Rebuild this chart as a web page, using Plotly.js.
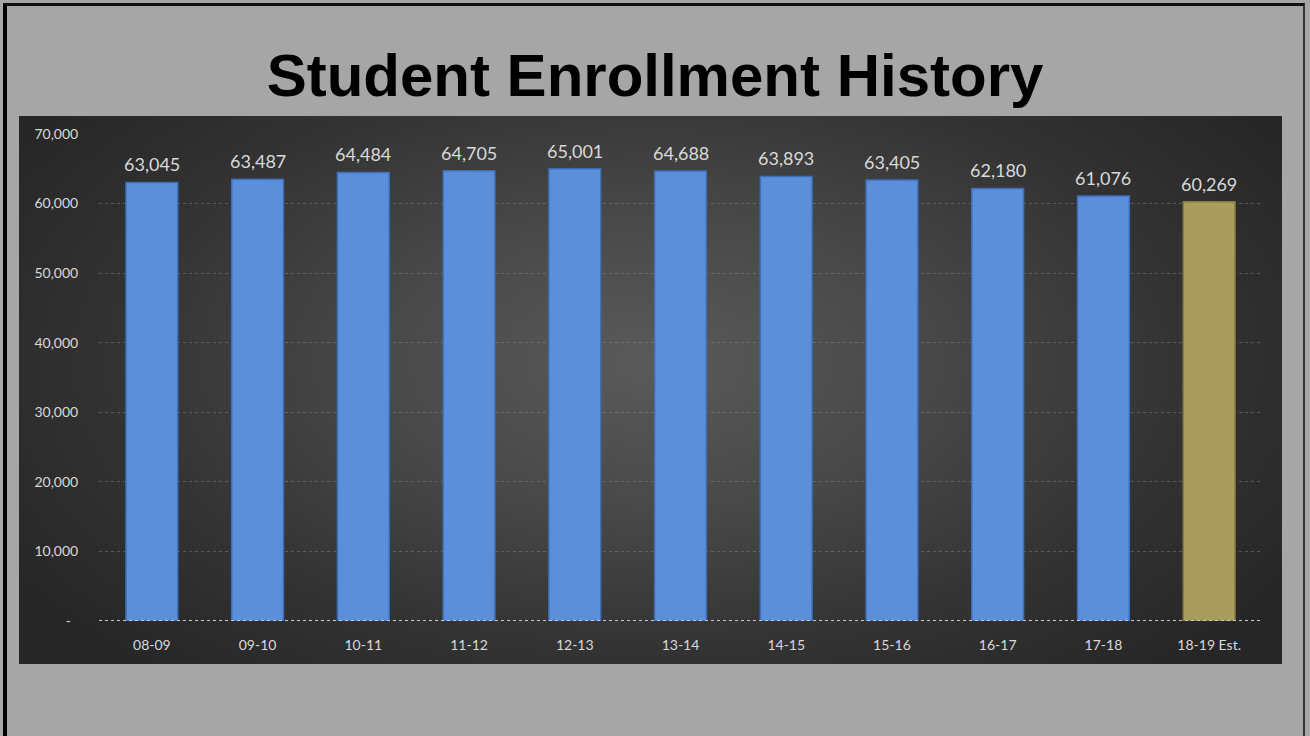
<!DOCTYPE html>
<html>
<head>
<meta charset="utf-8">
<script src="https://cdn.plot.ly/plotly-3.0.1.min.js"></script>
<style>
  html, body { margin: 0; padding: 0; width: 1310px; height: 736px; overflow: hidden; background: #a6a6a6; }
  #frame { position: absolute; left: 3px; top: 3px; width: 1302px; height: 740px; border-left: 4px solid #000; border-top: 3px solid #111; border-right: 2px solid #333; box-sizing: border-box; }
  #panel { position: absolute; left: 19px; top: 116px; width: 1263px; height: 548px;
           background: radial-gradient(ellipse 60% 75% at 50% 45%, #5a5a5a 0%, #494949 35%, #333333 70%, #262626 100%); }
  #chart { position: absolute; left: 0; top: 0; width: 1310px; height: 736px; }
</style>
</head>
<body>
<div id="frame"></div>
<div id="panel"></div>
<div id="chart"></div>
<script>
const categories = ['08-09', '09-10', '10-11', '11-12', '12-13', '13-14', '14-15', '15-16', '16-17', '17-18', '18-19 Est.'];
const enrollment = [63045, 63487, 64484, 64705, 65001, 64688, 63893, 63405, 62180, 61076, 60269];
const barColors = ['#5b8fd9', '#5b8fd9', '#5b8fd9', '#5b8fd9', '#5b8fd9', '#5b8fd9', '#5b8fd9', '#5b8fd9', '#5b8fd9', '#5b8fd9', '#a99d5e'];
const barEdges = ['#3d6fb8', '#3d6fb8', '#3d6fb8', '#3d6fb8', '#3d6fb8', '#3d6fb8', '#3d6fb8', '#3d6fb8', '#3d6fb8', '#3d6fb8', '#857a40'];
const yTickVals = [0, 10000, 20000, 30000, 40000, 50000, 60000, 70000];
const yTickText = ['-  ', '10,000', '20,000', '30,000', '40,000', '50,000', '60,000', '70,000'];

const fmt = v => v.toLocaleString('en-US');

const trace = {
  type: 'bar',
  x: categories,
  y: enrollment,
  marker: { color: barColors, line: { color: barEdges, width: 1.5 } },
  hoverinfo: 'x+y'
};

const annotations = categories.map((c, i) => ({
  x: c, y: enrollment[i], xref: 'x', yref: 'y',
  text: fmt(enrollment[i]), showarrow: false,
  yanchor: 'bottom', yshift: 5,
  font: { family: 'Lato, "Open Sans", sans-serif', size: 18, color: '#d9d9d9' }
}));

const layout = {
  width: 1310, height: 736,
  paper_bgcolor: 'rgba(0,0,0,0)',
  plot_bgcolor: 'rgba(0,0,0,0)',
  margin: { l: 99, r: 48, t: 134, b: 115 },
  title: {
    text: '<b>Student Enrollment History</b>',
    font: { family: '"Liberation Sans", Arial, sans-serif', size: 60, color: '#000' },
    x: 0.5, xanchor: 'center', xref: 'container',
    y: 1 - 75 / 736, yanchor: 'middle', yref: 'container'
  },
  bargap: 0.51,
  showlegend: false,
  xaxis: {
    type: 'category',
    showgrid: false, zeroline: false, showline: false,
    ticks: 'outside', ticklen: 11, tickcolor: 'rgba(0,0,0,0)',
    tickfont: { family: 'Lato, "Open Sans", sans-serif', size: 14, color: '#d9d9d9' }
  },
  yaxis: {
    range: [0, 70000],
    tickvals: yTickVals, ticktext: yTickText,
    showgrid: true, gridcolor: 'rgba(150,150,150,0.4)', griddash: 'dot', gridwidth: 1,
    zeroline: false, showline: false,
    ticks: 'outside', ticklen: 17, tickcolor: 'rgba(0,0,0,0)',
    tickfont: { family: 'Lato, "Open Sans", sans-serif', size: 14, color: '#d9d9d9' }
  },
  shapes: [{
    type: 'line', xref: 'paper', yref: 'y', x0: 0, x1: 1, y0: 0, y1: 0,
    line: { color: '#c8c8c8', width: 2, dash: 'dot' }, layer: 'above'
  }],
  annotations: annotations
};

Plotly.newPlot('chart', [trace], layout, { displayModeBar: false, staticPlot: true });
</script>
</body>
</html>
